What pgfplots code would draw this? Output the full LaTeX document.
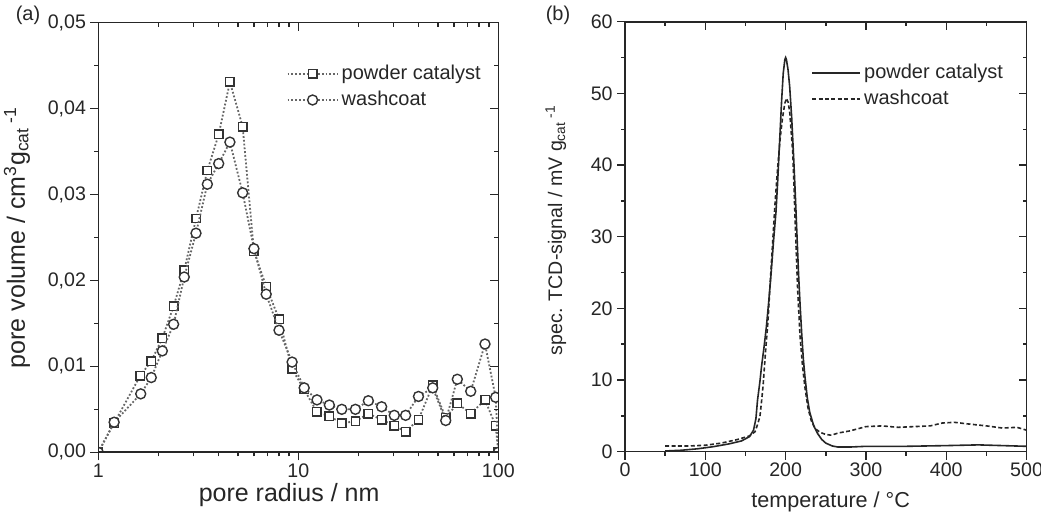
\documentclass[border=0pt]{standalone}
\usepackage{fontspec}
\setmainfont{Liberation Sans}
\usepackage{pgfplots}
\pgfplotsset{compat=1.18}

\pgfplotsset{
  base/.style={scale only axis,
    scaled x ticks=false, scaled y ticks=false,
    axis line style={line width=0.8pt, black!85},
    tick style={line width=0.7pt, black!85},
    major tick length=4pt, minor tick length=2pt,
    tick label style={font=\fontsize{9.8}{11}\selectfont, text=black!85},
    /pgf/number format/assume math mode=true,
    xticklabel style={inner sep=1.5pt},
    yticklabel style={inner sep=2pt}},
  outer/.style={xtick pos=left, ytick pos=left, tick align=outside},
  inner/.style={xtick pos=right, ytick pos=right, tick align=inside, xticklabels={}, yticklabels={}},
  leftgeom/.style={at={(49.15pt,30.35pt)}, anchor=south west, width=200pt, height=214.8pt,
    xmin=1, xmax=100, ymin=0, ymax=0.05,
    xtick={1,10,100}, minor xtick={2,3,4,5,6,7,8,9,20,30,40,50,60,70,80,90},
    ytick={0,0.01,0.02,0.03,0.04,0.05}, minor ytick={0.005,0.015,0.025,0.035,0.045}},
  rightgeom/.style={at={(312.5pt,30.65pt)}, anchor=south west, width=200.8pt, height=215pt,
    xmin=0, xmax=500, ymin=0, ymax=60,
    xtick={0,100,200,300,400,500}, minor x tick num=1,
    ytick={0,10,20,30,40,50,60}, minor y tick num=1},
}

\pgfplotstableread{
x y
1 0
1.2 0.0034
1.62 0.0089
1.84 0.0106
2.09 0.0133
2.38 0.0170
2.69 0.0212
3.08 0.0272
3.51 0.0328
4.0 0.0370
4.55 0.0431
5.27 0.0379
6.0 0.0234
6.91 0.0193
8.01 0.0155
9.31 0.0097
10.7 0.0073
12.4 0.0047
14.3 0.0042
16.5 0.0034
19.3 0.0036
22.4 0.0045
26.1 0.0038
30.2 0.0031
34.4 0.0024
39.9 0.0038
47.0 0.0078
54.6 0.0040
62.4 0.0057
72.8 0.0045
85.8 0.0061
97.0 0.0031
100 0
}\powder

\pgfplotstableread{
x y
1 0
1.2 0.0035
1.63 0.0068
1.84 0.0087
2.09 0.0118
2.38 0.0149
2.69 0.0204
3.08 0.0255
3.51 0.0312
4.0 0.0336
4.55 0.0361
5.27 0.0302
6.0 0.0237
6.91 0.0184
8.01 0.0142
9.31 0.0105
10.7 0.0075
12.4 0.0061
14.3 0.0055
16.5 0.0050
19.3 0.0050
22.4 0.0060
26.1 0.0053
30.2 0.0043
34.4 0.0043
39.9 0.0065
47.0 0.0075
54.6 0.0037
62.4 0.0085
72.8 0.0071
85.8 0.0126
97.0 0.0064
100 0
}\washcoat

\pgfplotstableread{
x y
50 0.1
70 0.2
90 0.4
110 0.7
130 1.1
145 1.5
155 2.1
160 3.0
163 4.6
165 7.2
168 9.8
170 11.9
173 14.5
176 17.4
179 21
182 25
185 29.5
188 33.5
190 37.5
193 44.4
195 49
197 52.8
199 54.7
200 55.0
201 54.7
203 53.3
205 51
207.5 46.7
210 41
212 36
214 30.5
216 25
218 20.5
220 16.5
222 13
224 10.5
227 7.5
230 5.5
235 3.6
240 2.5
245 1.7
250 1.2
258 0.8
265 0.65
280 0.65
300 0.75
350 0.75
400 0.85
440 0.95
470 0.85
500 0.75
}\tprpowder

\pgfplotstableread{
x y
50 0.8
80 0.8
100 0.9
120 1.2
140 1.7
155 2.2
162 2.8
165 3.8
168 4.9
170 7
172 9.3
175 14
178 18.2
181 24
184 29.5
187 35
190 39.5
193 43.5
196 46.5
199 48.6
201 49.3
203 48.8
205 47.5
207 44.5
209 41.5
211 35
213 28.5
215 22.5
218 16
221 12
224 9
228 6
232 4.3
237 3.2
243 2.7
250 2.4
257 2.3
265 2.6
280 2.9
300 3.5
320 3.6
340 3.4
360 3.5
380 3.6
395 4.0
410 4.1
425 3.9
450 3.6
470 3.3
488 3.4
500 3.0
}\tprwash

\begin{document}
\begin{tikzpicture}
% ---------- (a) ----------
\begin{axis}[xmode=log, base, outer, leftgeom,
  xticklabels={1,10,100},
  yticklabels={{0,00},{0,01},{0,02},{0,03},{0,04},{0,05}},
  clip marker paths=true,
  xlabel={pore radius / nm},
  ylabel={pore volume / cm\textsuperscript{3}g\textsubscript{cat}\,\textsuperscript{-1}},
  xlabel style={at={(axis description cs:0.477,-0.1157)}, anchor=base, font=\fontsize{12.5}{14}\selectfont, text=black!85},
  ylabel style={at={(axis description cs:-0.153,0.5)}, anchor=south, font=\fontsize{12.5}{14}\selectfont, text=black!85},
  legend style={draw=none, fill=none, at={(rel axis cs:0.47,0.91)}, anchor=north west,
    font=\fontsize{10}{12}\selectfont, text=black!85, row sep=1.2pt, inner sep=0pt, nodes={inner sep=1.6pt}},
  legend cell align=left,
  legend image code/.code={\draw[mark repeat=2,mark phase=2] plot coordinates {(0pt,0pt)(12.5pt,0pt)(25pt,0pt)};},
]
\addplot[densely dotted, line width=0.9pt, black!60, mark=square*, mark size=2.1pt,
  mark options={solid, draw=black!80, fill=white, line width=0.7pt}] table {\powder};
\addlegendentry{powder catalyst}
\addplot[densely dotted, line width=0.9pt, black!60, mark=*, mark size=2.5pt,
  mark options={solid, draw=black!80, fill=white, line width=0.7pt}] table {\washcoat};
\addlegendentry{washcoat}
\end{axis}
\begin{axis}[xmode=log, base, inner, leftgeom]
\addplot[draw=none] coordinates {(1,0)};
\end{axis}
% ---------- (b) ----------
\begin{axis}[base, outer, rightgeom,
  xlabel={temperature / °C},
  ylabel={spec. TCD-signal / mV g\textsubscript{cat}\,\textsuperscript{-1}},
  xlabel style={at={(axis description cs:0.512,-0.13)}, anchor=base, font=\fontsize{10.8}{12}\selectfont, text=black!85},
  ylabel style={at={(axis description cs:-0.129,0.515)}, anchor=south, font=\fontsize{9.8}{12}\selectfont, text=black!85},
  legend style={draw=none, fill=none, at={(rel axis cs:0.463,0.91)}, anchor=north west,
    font=\fontsize{10}{12}\selectfont, text=black!85, row sep=1.2pt, inner sep=0pt, nodes={inner sep=1.6pt}},
  legend cell align=left,
  legend image code/.code={\draw (0pt,0pt) -- (24pt,0pt);},
]
\addplot[solid, line width=0.8pt, black!85] table {\tprpowder};
\addlegendentry{powder catalyst}
\addplot[dash pattern=on 2pt off 1.2pt, line width=0.8pt, black!85] table {\tprwash};
\addlegendentry{washcoat}
\end{axis}
\begin{axis}[base, inner, rightgeom]
\addplot[draw=none] coordinates {(0,0)};
\end{axis}
\node[font=\fontsize{10}{12}\selectfont, text=black!85] at (14pt,249pt) {(a)};
\node[font=\fontsize{10}{12}\selectfont, text=black!85] at (279pt,249pt) {(b)};
\pgfresetboundingbox
\path (0,0) rectangle (520.5pt,256.5pt);
\end{tikzpicture}
\end{document}
